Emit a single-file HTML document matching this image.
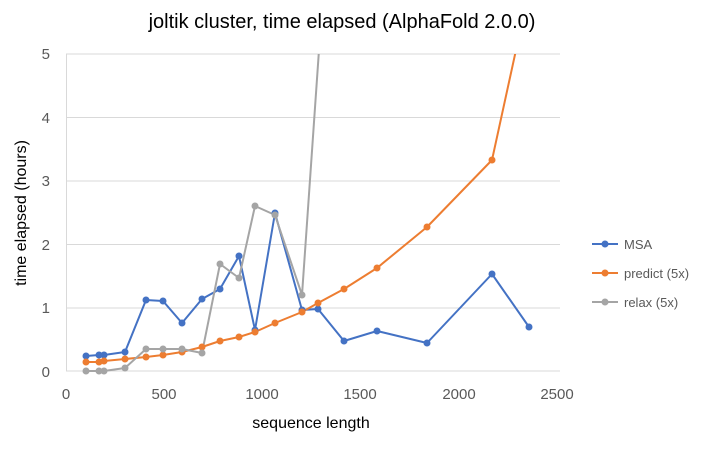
<!DOCTYPE html>
<html><head><style>body{margin:0;background:#fff}</style></head><body>
<svg width="716" height="446" xmlns="http://www.w3.org/2000/svg" font-family="Liberation Sans, sans-serif">
<rect width="716" height="446" fill="#fff"/>
<text x="342" y="28" font-size="20" text-anchor="middle" fill="#000">joltik cluster, time elapsed (AlphaFold 2.0.0)</text>
<g stroke="#d9d9d9" stroke-width="1">
<line x1="66" y1="54" x2="560" y2="54"/><line x1="66" y1="117.5" x2="560" y2="117.5"/><line x1="66" y1="181" x2="560" y2="181"/><line x1="66" y1="244.5" x2="560" y2="244.5"/><line x1="66" y1="308" x2="560" y2="308"/><line x1="66" y1="371" x2="560" y2="371"/><line x1="66.5" y1="54" x2="66.5" y2="371"/>
</g>
<g font-size="15" fill="#595959" text-anchor="end">
<text x="50" y="59">5</text><text x="50" y="123">4</text><text x="50" y="186">3</text><text x="50" y="250">2</text><text x="50" y="313">1</text><text x="50" y="377">0</text>
</g>
<g font-size="15" fill="#595959" text-anchor="middle">
<text x="66" y="399">0</text><text x="164" y="399">500</text><text x="262" y="399">1000</text><text x="360" y="399">1500</text><text x="459" y="399">2000</text><text x="557" y="399">2500</text>
</g>
<text x="311" y="428" font-size="16" text-anchor="middle" fill="#000">sequence length</text>
<text transform="translate(26,213) rotate(-90)" font-size="16" text-anchor="middle" fill="#000">time elapsed (hours)</text>
<defs><clipPath id="c"><rect x="60" y="54" width="510" height="330"/></clipPath></defs>
<g clip-path="url(#c)" stroke-width="2" fill="none" stroke-linejoin="round">
<polyline stroke="#4472c4" points="86,356 99,355 104,355 125,352 146,300 163,301 182,323 202,299 220,289 239,256 255,330 275,213 302,310 318,309 344,341 377,331 427,343 492,274 529,327"/>
<polyline stroke="#ed7d31" points="86,362 99,362 104,361 125,359 146,357 163,355 182,352 202,347 220,341 239,337 255,332 275,323 302,312 318,303 344,289 377,268 427,227 492,160 516,50"/>
<polyline stroke="#a5a5a5" points="86,371 99,371 104,371 125,368 146,349 163,349 182,349 202,353 220,264 239,278 255,206 275,215 302,295 319,50"/>
</g>
<g fill="#4472c4"><circle cx="86" cy="356" r="3.5"/><circle cx="99" cy="355" r="3.5"/><circle cx="104" cy="355" r="3.5"/><circle cx="125" cy="352" r="3.5"/><circle cx="146" cy="300" r="3.5"/><circle cx="163" cy="301" r="3.5"/><circle cx="182" cy="323" r="3.5"/><circle cx="202" cy="299" r="3.5"/><circle cx="220" cy="289" r="3.5"/><circle cx="239" cy="256" r="3.5"/><circle cx="255" cy="330" r="3.5"/><circle cx="275" cy="213" r="3.5"/><circle cx="302" cy="310" r="3.5"/><circle cx="318" cy="309" r="3.5"/><circle cx="344" cy="341" r="3.5"/><circle cx="377" cy="331" r="3.5"/><circle cx="427" cy="343" r="3.5"/><circle cx="492" cy="274" r="3.5"/><circle cx="529" cy="327" r="3.5"/></g>
<g fill="#ed7d31"><circle cx="86" cy="362" r="3.5"/><circle cx="99" cy="362" r="3.5"/><circle cx="104" cy="361" r="3.5"/><circle cx="125" cy="359" r="3.5"/><circle cx="146" cy="357" r="3.5"/><circle cx="163" cy="355" r="3.5"/><circle cx="182" cy="352" r="3.5"/><circle cx="202" cy="347" r="3.5"/><circle cx="220" cy="341" r="3.5"/><circle cx="239" cy="337" r="3.5"/><circle cx="255" cy="332" r="3.5"/><circle cx="275" cy="323" r="3.5"/><circle cx="302" cy="312" r="3.5"/><circle cx="318" cy="303" r="3.5"/><circle cx="344" cy="289" r="3.5"/><circle cx="377" cy="268" r="3.5"/><circle cx="427" cy="227" r="3.5"/><circle cx="492" cy="160" r="3.5"/></g>
<g fill="#a5a5a5"><circle cx="86" cy="371" r="3.5"/><circle cx="99" cy="371" r="3.5"/><circle cx="104" cy="371" r="3.5"/><circle cx="125" cy="368" r="3.5"/><circle cx="146" cy="349" r="3.5"/><circle cx="163" cy="349" r="3.5"/><circle cx="182" cy="349" r="3.5"/><circle cx="202" cy="353" r="3.5"/><circle cx="220" cy="264" r="3.5"/><circle cx="239" cy="278" r="3.5"/><circle cx="255" cy="206" r="3.5"/><circle cx="275" cy="215" r="3.5"/><circle cx="302" cy="295" r="3.5"/></g>
<g font-size="13" fill="#595959">
<line x1="592" y1="244" x2="618" y2="244" stroke="#4472c4" stroke-width="2"/><circle cx="605" cy="244" r="3.5" fill="#4472c4"/><text x="624" y="249">MSA</text>
<line x1="592" y1="273" x2="618" y2="273" stroke="#ed7d31" stroke-width="2"/><circle cx="605" cy="273" r="3.5" fill="#ed7d31"/><text x="624" y="278">predict (5x)</text>
<line x1="592" y1="302" x2="618" y2="302" stroke="#a5a5a5" stroke-width="2"/><circle cx="605" cy="302" r="3.5" fill="#a5a5a5"/><text x="624" y="307">relax (5x)</text>
</g>
</svg>
</body></html>
